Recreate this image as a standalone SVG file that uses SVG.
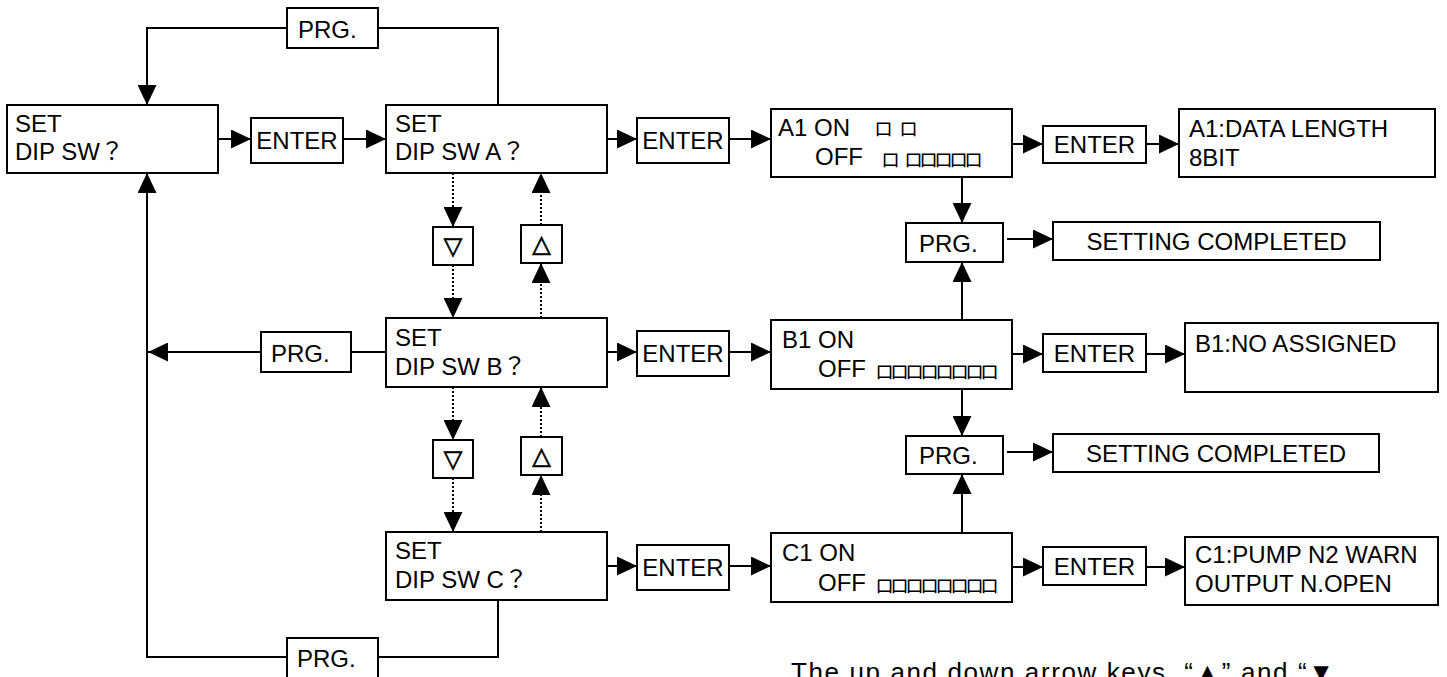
<svg xmlns="http://www.w3.org/2000/svg" width="1447" height="677" viewBox="0 0 1447 677">
<style>
.bx{fill:#fff;stroke:#000;stroke-width:2}
.ln{fill:none;stroke:#000;stroke-width:2}
.dt{fill:none;stroke:#000;stroke-width:2;stroke-dasharray:2 2}
.t{font-family:"Liberation Sans","Noto Sans CJK JP",sans-serif;font-size:24px;fill:#000}
.tc{font-family:"Liberation Sans","Noto Sans CJK JP",sans-serif;font-size:24px;fill:#000;text-anchor:middle}
.g{font-family:"Noto Sans CJK JP",sans-serif;font-size:19px;fill:#000}
.tri{font-family:"DejaVu Sans","Noto Sans CJK JP",sans-serif;font-size:24px;fill:#000;stroke:#000;stroke-width:0.7;text-anchor:middle}
</style>
<defs>
<marker id="ah" markerUnits="userSpaceOnUse" markerWidth="20" markerHeight="19" refX="20" refY="9.5" orient="auto" viewBox="0 0 20 19">
<path d="M0,0 L20,9.5 L0,19 z" fill="#000"/>
</marker>
</defs>

<g id="connectors">
<path class="ln" d="M498,105 V28 H378"/>
<path class="ln" d="M287,28 H147 V105" marker-end="url(#ah)"/>
<path class="ln" d="M498,600 V657 H378"/>
<path class="ln" d="M287,657 H147 V173" marker-end="url(#ah)"/>
<path class="ln" d="M218,139 H251" marker-end="url(#ah)"/>
<path class="ln" d="M343,139 H386" marker-end="url(#ah)"/>
<path class="ln" d="M607,139 H637" marker-end="url(#ah)"/>
<path class="ln" d="M729,139 H771" marker-end="url(#ah)"/>
<path class="ln" d="M1012,144 H1043" marker-end="url(#ah)"/>
<path class="ln" d="M1146,144 H1179" marker-end="url(#ah)"/>
<path class="ln" d="M607,352 H637" marker-end="url(#ah)"/>
<path class="ln" d="M729,352 H771" marker-end="url(#ah)"/>
<path class="ln" d="M1012,354 H1043" marker-end="url(#ah)"/>
<path class="ln" d="M1146,354 H1185" marker-end="url(#ah)"/>
<path class="ln" d="M607,566 H637" marker-end="url(#ah)"/>
<path class="ln" d="M729,566 H771" marker-end="url(#ah)"/>
<path class="ln" d="M1012,567 H1043" marker-end="url(#ah)"/>
<path class="ln" d="M1146,567 H1185" marker-end="url(#ah)"/>
<path class="ln" d="M386,352 H351"/>
<path class="ln" d="M261,352 H148" marker-end="url(#ah)"/>
<path class="ln" d="M962,177 V223" marker-end="url(#ah)"/>
<path class="ln" d="M962,320 V262" marker-end="url(#ah)"/>
<path class="ln" d="M962,389 V436" marker-end="url(#ah)"/>
<path class="ln" d="M962,533 V474" marker-end="url(#ah)"/>
<path class="ln" d="M1007,239 H1053" marker-end="url(#ah)"/>
<path class="ln" d="M1007,452 H1053" marker-end="url(#ah)"/>
<path class="dt" d="M453,173 V227" marker-end="url(#ah)"/>
<path class="dt" d="M453,265 V318" marker-end="url(#ah)"/>
<path class="dt" d="M541,318 V263" marker-end="url(#ah)"/>
<path class="dt" d="M541,225 V173" marker-end="url(#ah)"/>
<path class="dt" d="M453,387 V440" marker-end="url(#ah)"/>
<path class="dt" d="M453,478 V532" marker-end="url(#ah)"/>
<path class="dt" d="M541,532 V475" marker-end="url(#ah)"/>
<path class="dt" d="M541,437 V387" marker-end="url(#ah)"/>
</g>

<g id="set-dipsw">
<rect class="bx" x="7" y="105" width="211" height="68"/>
<text class="t" x="15" y="132">SET</text>
<text class="t" x="15" y="160">DIP SW？</text>
</g>
<g id="prg-top">
<rect class="bx" x="287" y="8" width="91" height="40"/>
<text class="t" x="298" y="38">PRG.</text>
</g>
<g id="prg-bottom">
<rect class="bx" x="287" y="638" width="91" height="42"/>
<text class="t" x="297" y="667">PRG.</text>
</g>
<g id="prg-left">
<rect class="bx" x="261" y="332" width="90" height="40"/>
<text class="t" x="271" y="362">PRG.</text>
</g>
<g id="enter-1">
<rect class="bx" x="251" y="118" width="92" height="45"/>
<text class="tc" x="297" y="149">ENTER</text>
</g>

<g id="set-a">
<rect class="bx" x="386" y="105" width="221" height="68"/>
<text class="t" x="395" y="132">SET</text>
<text class="t" x="395" y="160">DIP SW A？</text>
</g>
<g id="set-b">
<rect class="bx" x="386" y="318" width="221" height="69"/>
<text class="t" x="395" y="346">SET</text>
<text class="t" x="395" y="375">DIP SW B？</text>
</g>
<g id="set-c">
<rect class="bx" x="386" y="532" width="221" height="68"/>
<text class="t" x="395" y="559">SET</text>
<text class="t" x="395" y="588">DIP SW C？</text>
</g>

<g id="down-ab">
<rect class="bx" x="433" y="227" width="40" height="38"/>
<text class="tri" x="453" y="254">▽</text>
</g>
<g id="up-ab">
<rect class="bx" x="521" y="225" width="41" height="38"/>
<text class="tri" x="541.5" y="252">△</text>
</g>
<g id="down-bc">
<rect class="bx" x="433" y="440" width="40" height="38"/>
<text class="tri" x="453" y="467">▽</text>
</g>
<g id="up-bc">
<rect class="bx" x="521" y="437" width="41" height="38"/>
<text class="tri" x="541.5" y="464">△</text>
</g>

<g id="enter-a">
<rect class="bx" x="637" y="118" width="92" height="45"/>
<text class="tc" x="683" y="149">ENTER</text>
</g>
<g id="enter-b">
<rect class="bx" x="637" y="331" width="92" height="45"/>
<text class="tc" x="683" y="362">ENTER</text>
</g>
<g id="enter-c">
<rect class="bx" x="637" y="545" width="92" height="45"/>
<text class="tc" x="683" y="576">ENTER</text>
</g>

<g id="a1">
<rect class="bx" x="771" y="109" width="241" height="68"/>
<text class="t" x="778" y="136">A1 ON</text>
<text class="t" x="815" y="165">OFF</text>
<text class="g" x="874 899" y="136">ロロ</text>
<text class="g" x="881 904 919 934 949 964" y="167">ロロロロロロ</text>
</g>
<g id="b1">
<rect class="bx" x="771" y="320" width="241" height="69"/>
<text class="t" x="782" y="348">B1 ON</text>
<text class="t" x="818" y="377">OFF</text>
<text class="g" x="875 890 905 920 935 950 965 980" y="379">ロロロロロロロロ</text>
</g>
<g id="c1">
<rect class="bx" x="771" y="533" width="241" height="69"/>
<text class="t" x="782" y="561">C1 ON</text>
<text class="t" x="818" y="591">OFF</text>
<text class="g" x="875 890 905 920 935 950 965 980" y="593">ロロロロロロロロ</text>
</g>

<g id="enter-a2">
<rect class="bx" x="1043" y="126" width="103" height="37"/>
<text class="tc" x="1094.5" y="153">ENTER</text>
</g>
<g id="enter-b2">
<rect class="bx" x="1043" y="334" width="103" height="38"/>
<text class="tc" x="1094.5" y="362">ENTER</text>
</g>
<g id="enter-c2">
<rect class="bx" x="1043" y="547" width="103" height="38"/>
<text class="tc" x="1094.5" y="575">ENTER</text>
</g>

<g id="a1-result">
<rect class="bx" x="1179" y="109" width="256" height="68"/>
<text class="t" x="1189" y="137">A1:DATA LENGTH</text>
<text class="t" x="1189" y="166">8BIT</text>
</g>
<g id="b1-result">
<rect class="bx" x="1185" y="323" width="253" height="69"/>
<text class="t" x="1195" y="352">B1:NO ASSIGNED</text>
</g>
<g id="c1-result">
<rect class="bx" x="1185" y="537" width="253" height="68"/>
<text class="t" x="1195" y="563">C1:PUMP N2 WARN</text>
<text class="t" x="1195" y="592">OUTPUT N.OPEN</text>
</g>

<g id="prg-1">
<rect class="bx" x="906" y="223" width="97" height="39"/>
<text class="t" x="919" y="252">PRG.</text>
</g>
<g id="completed-1">
<rect class="bx" x="1053" y="222" width="327" height="38"/>
<text class="tc" x="1216.5" y="250">SETTING COMPLETED</text>
</g>
<g id="prg-2">
<rect class="bx" x="906" y="436" width="97" height="38"/>
<text class="t" x="919" y="464">PRG.</text>
</g>
<g id="completed-2">
<rect class="bx" x="1053" y="434" width="326" height="38"/>
<text class="tc" x="1216" y="462">SETTING COMPLETED</text>
</g>

<g id="note">
<text class="t" x="791" y="681" style="font-size:26px" textLength="543" lengthAdjust="spacing">The up and down arrow keys, “▲” and “▼</text>
</g>
</svg>
